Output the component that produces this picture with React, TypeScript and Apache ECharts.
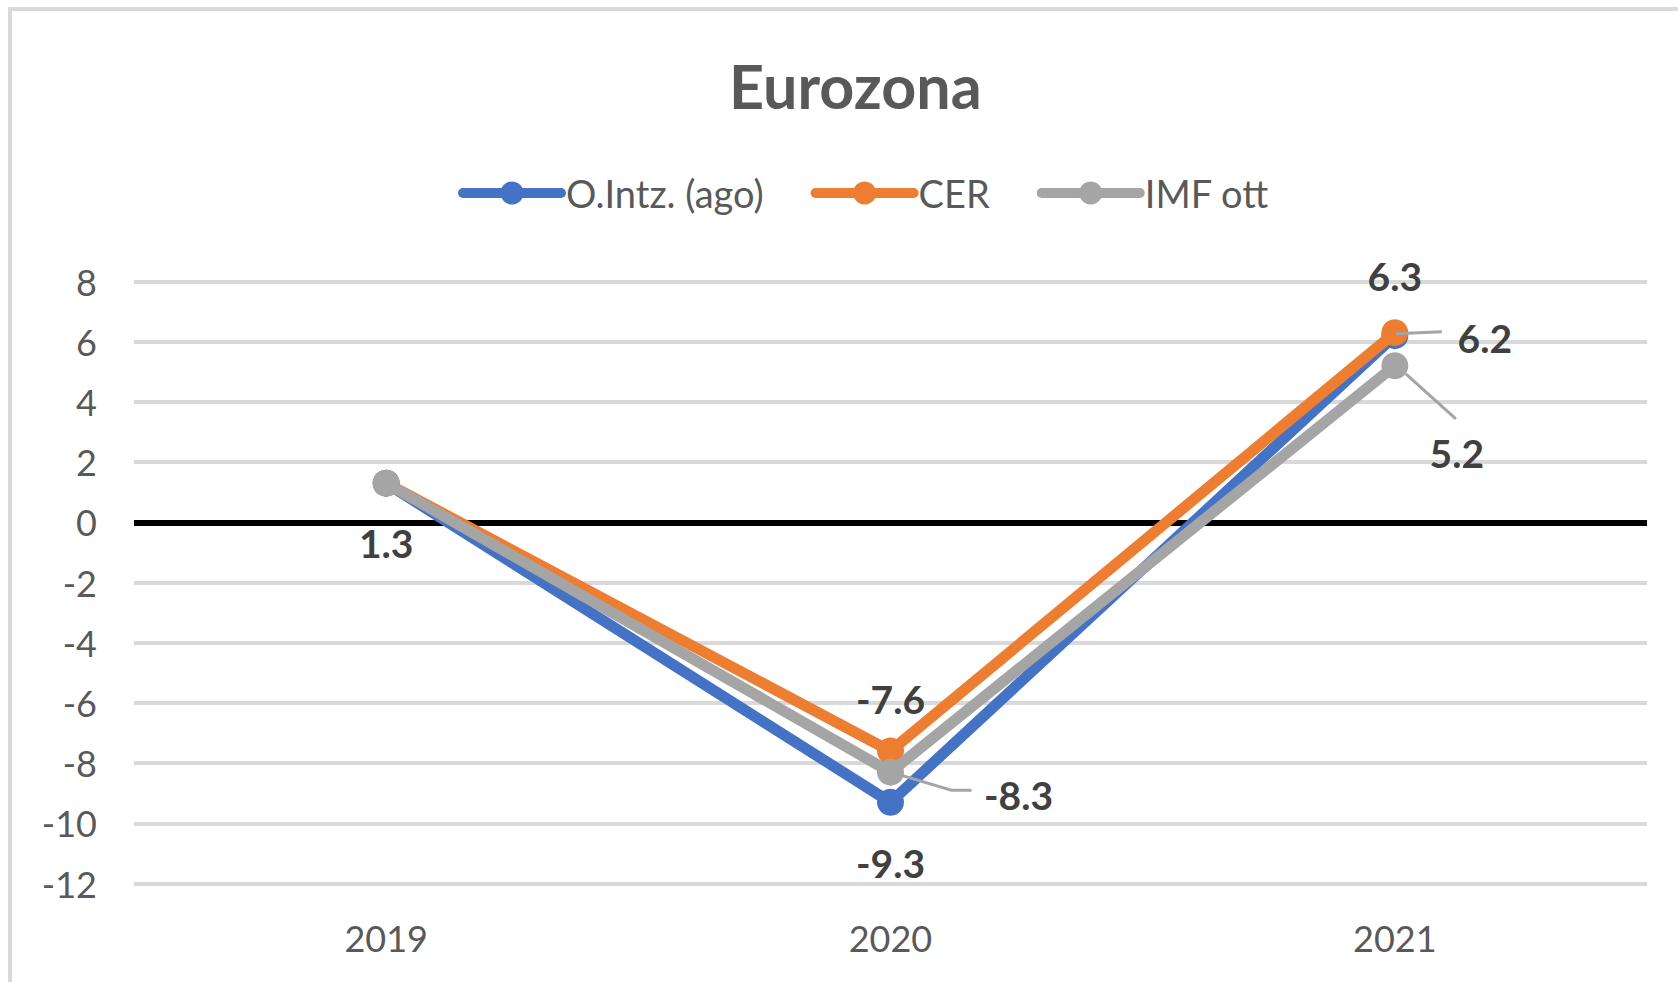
import React, { useEffect, useRef } from 'react';
import * as echarts from 'echarts';

const categories = ['2019', '2020', '2021'];
const seriesNames = ['O.Intz. (ago)', 'CER', 'IMF ott'];
const oIntzValues = [1.3, -9.3, 6.2];
const cerValues = [1.3, -7.6, 6.3];
const imfValues = [1.3, -8.3, 5.2];
const seriesColors = ['#4472C4', '#ED7D31', '#A5A5A5'];
const yMin = -12;
const yMax = 8;
const yStep = 2;

// label placement per series / point (null = no label); leader = polyline offsets from the point
type Place = { offset: [number, number]; leader?: [number, number][] } | null;
const labelPlaces: Place[][] = [
  [null, { offset: [0, 61] }, { offset: [90, 2], leader: [[1, -2], [47, -4]] }],
  [null, { offset: [0, -52] }, { offset: [0, -57] }],
  [
    { offset: [0, 60] },
    { offset: [128, 23], leader: [[0, 0], [61, 18], [81, 18]] },
    { offset: [62, 87], leader: [[11, 8], [61, 53]] },
  ],
];

const FONT = 'Lato';

export default function App() {
  const ref = useRef<HTMLDivElement>(null);
  useEffect(() => {
    document.body.style.margin = '0';
    if (!ref.current) return;
    const chart = echarts.init(ref.current, undefined, { renderer: 'svg' });
    const allValues = [oIntzValues, cerValues, imfValues];
    const series: any[] = allValues.map((vals, si) => ({
      type: 'line',
      name: seriesNames[si],
      z: 3 + si,
      symbol: 'circle',
      symbolSize: 27,
      showSymbol: true,
      lineStyle: { width: 11, color: seriesColors[si], cap: 'round', join: 'round' },
      itemStyle: { color: seriesColors[si], borderWidth: 0 },
      emphasis: { disabled: true },
      label: { show: false },
      data: vals.map((v, i) => {
        const p = labelPlaces[si][i];
        if (!p) return { value: v };
        return {
          value: v,
          label: {
            show: true,
            position: 'inside',
            offset: p.offset,
            formatter: (prm: any) => String(prm.value),
            fontFamily: FONT,
            fontSize: 39,
            fontWeight: 'bold',
            color: '#404040',
          },
        };
      }),
    }));
    // zero line
    series[0].markLine = {
      silent: true,
      z: 1,
      symbol: 'none',
      label: { show: false },
      lineStyle: { color: '#000000', width: 6, type: 'solid' },
      data: [{ yAxis: 0 }],
    };

    // leader lines for moved labels
    const leaderData: any[] = [];
    allValues.forEach((vals, si) => {
      vals.forEach((v, i) => {
        const p = labelPlaces[si][i];
        if (p && p.leader) leaderData.push({ value: [i, v], leader: p.leader });
      });
    });
    series.push({
      type: 'custom',
      name: 'leaders',
      z: 10,
      silent: true,
      data: leaderData.map((d) => d.value),
      renderItem: (params: any, api: any) => {
        const d = leaderData[params.dataIndex];
        const c = api.coord([api.value(0), api.value(1)]);
        return {
          type: 'polyline',
          shape: { points: d.leader.map((o: [number, number]) => [c[0] + o[0], c[1] + o[1]]) },
          style: { stroke: '#A5A5A5', lineWidth: 3, fill: 'none' },
        };
      },
    });

    chart.setOption({
      animation: false,
      textStyle: { fontFamily: FONT },
      title: {
        text: 'Eurozona',
        left: 729,
        top: 55,
        padding: 0,
        textStyle: { fontFamily: FONT, fontSize: 61, fontWeight: 'bold', color: '#595959' },
      },
      legend: {
        data: seriesNames,
        left: 458,
        top: 174,
        padding: 0,
        itemWidth: 98,
        itemHeight: 29,
        itemGap: 47,
        lineStyle: { width: 10, cap: 'round' },
        textStyle: { fontFamily: FONT, fontSize: 38, color: '#595959' },
      },
      graphic: [
        {
          type: 'rect',
          shape: { x: 10, y: 9, width: 1720, height: 1020 },
          style: { fill: 'none', stroke: '#D9D9D9', lineWidth: 4 },
          silent: true,
          z: -10,
        },
      ],
      grid: { left: 134, right: 31, top: 281.5, bottom: 98.5 },
      xAxis: {
        type: 'category',
        data: categories,
        boundaryGap: true,
        axisLine: { show: false },
        axisTick: { show: false },
        axisLabel: { fontFamily: FONT, fontSize: 36, color: '#595959', margin: 36 },
      },
      yAxis: {
        type: 'value',
        min: yMin,
        max: yMax,
        interval: yStep,
        axisLine: { show: false },
        axisTick: { show: false },
        axisLabel: { fontFamily: FONT, fontSize: 36, color: '#595959', margin: 37 },
        splitLine: { lineStyle: { color: '#D9D9D9', width: 4 } },
      },
      series,
    });
    return () => chart.dispose();
  }, []);
  return <div ref={ref} style={{ width: 1678, height: 982 }} />;
}
